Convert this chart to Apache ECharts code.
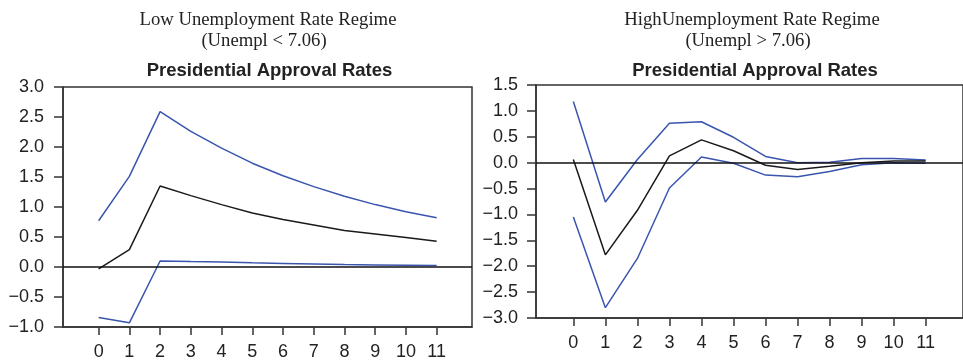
<!DOCTYPE html>
<html>
<head>
<meta charset="utf-8">
<script src="https://cdn.jsdelivr.net/npm/echarts@6/dist/echarts.min.js"></script>
<style>
  html, body { margin: 0; padding: 0; background: #fff; }
  #chart { width: 963px; height: 363px; }
</style>
</head>
<body>
<div id="chart"></div>
<script>
// Impulse responses of presidential approval, by unemployment regime
const horizons = [0, 1, 2, 3, 4, 5, 6, 7, 8, 9, 10, 11];

// Low unemployment regime (Unempl < 7.06)
const lowUpper = [0.77, 1.51, 2.59, 2.26, 1.98, 1.73, 1.52, 1.34, 1.18, 1.04, 0.92, 0.82];
const lowMean  = [-0.03, 0.29, 1.35, 1.19, 1.04, 0.90, 0.79, 0.70, 0.61, 0.55, 0.49, 0.43];
const lowLower = [-0.84, -0.93, 0.10, 0.09, 0.085, 0.07, 0.06, 0.05, 0.04, 0.035, 0.03, 0.025];

// High unemployment regime (Unempl > 7.06)
const highUpper = [1.18, -0.76, 0.06, 0.76, 0.79, 0.49, 0.12, 0.0, 0.01, 0.08, 0.08, 0.05];
const highMean  = [0.06, -1.78, -0.92, 0.13, 0.44, 0.23, -0.05, -0.13, -0.07, 0.0, 0.03, 0.03];
const highLower = [-1.05, -2.80, -1.85, -0.49, 0.11, -0.01, -0.24, -0.27, -0.17, -0.04, 0.0, -0.01];

// Axis tick values
const yTicksLow  = [-1.0, -0.5, 0.0, 0.5, 1.0, 1.5, 2.0, 2.5, 3.0];
const yTicksHigh = [-3.0, -2.5, -2.0, -1.5, -1.0, -0.5, 0.0, 0.5, 1.0, 1.5];

const panelTitles = ['Low Unemployment Rate Regime', 'HighUnemployment Rate Regime'];
const panelConditions = ['(Unempl < 7.06)', '(Unempl > 7.06)'];
const plotTitle = 'Presidential Approval Rates';

const BLUE = '#3a55ae';
const BLACK = '#1a1a1a';
const AXIS = '#333';
const SANS = '"Liberation Sans", Arial, sans-serif';
const SERIF = '"Liberation Serif", "Times New Roman", serif';

const pairs = vals => horizons.map((h, i) => [h, vals[i]]);
const fmt = v => (v < 0 ? '\u2212' : '') + Math.abs(v).toFixed(1);

function xAxisFor(gridIndex, min, max) {
  return {
    type: 'value', gridIndex, min, max,
    axisLine: { show: true, onZero: false, lineStyle: { color: AXIS, width: 1.5 } },
    axisTick: { show: true, customValues: horizons, length: 8, lineStyle: { color: AXIS, width: 1.5 } },
    axisLabel: { customValues: horizons, margin: 16, color: '#222', fontSize: 18, fontFamily: SANS },
    splitLine: { show: false }
  };
}

function yAxisFor(gridIndex, ticks, margin) {
  return {
    type: 'value', gridIndex,
    min: ticks[0], max: ticks[ticks.length - 1],
    axisLine: { show: true, onZero: false, lineStyle: { color: AXIS, width: 1.5 } },
    axisTick: { show: true, customValues: ticks, length: 9, lineStyle: { color: AXIS, width: 1.5 } },
    axisLabel: { customValues: ticks, margin, formatter: fmt, color: '#222', fontSize: 18, fontFamily: SANS },
    splitLine: { show: false }
  };
}

function band(name, vals, idx, color) {
  return {
    name, type: 'line', xAxisIndex: idx, yAxisIndex: idx,
    data: pairs(vals), showSymbol: false, symbol: 'none',
    lineStyle: { color, width: 1.5 }, z: 3
  };
}

function meanSeries(name, vals, idx) {
  const s = band(name, vals, idx, BLACK);
  s.markLine = {
    silent: true, symbol: 'none', label: { show: false },
    lineStyle: { color: '#111', width: 1.5, type: 'solid' },
    data: [{ yAxis: 0 }]
  };
  return s;
}

function text(x, y, str, font) {
  return {
    type: 'text', x, y, silent: true,
    style: { text: str, font, fill: '#222', align: 'center', verticalAlign: 'middle' }
  };
}

const chart = echarts.init(document.getElementById('chart'), null, { renderer: 'canvas' });
chart.setOption({
  animation: false,
  backgroundColor: '#fff',
  grid: [
    { left: 63, top: 87, width: 409, height: 240, show: true, borderColor: AXIS, borderWidth: 1.5, backgroundColor: 'transparent' },
    { left: 536, top: 85, width: 438, height: 233, show: true, borderColor: AXIS, borderWidth: 1.5, backgroundColor: 'transparent' }
  ],
  xAxis: [xAxisFor(0, -1.16, 12.15), xAxisFor(1, -1.166, 12.166)],
  yAxis: [yAxisFor(0, yTicksLow, 19), yAxisFor(1, yTicksHigh, 18)],
  series: [
    band('Low upper', lowUpper, 0, BLUE),
    band('Low lower', lowLower, 0, BLUE),
    meanSeries('Low response', lowMean, 0),
    band('High upper', highUpper, 1, BLUE),
    band('High lower', highLower, 1, BLUE),
    meanSeries('High response', highMean, 1)
  ],
  graphic: [
    text(268, 20, panelTitles[0], '18.7px ' + SERIF),
    text(264, 41, panelConditions[0], '18.7px ' + SERIF),
    text(752, 20, panelTitles[1], '18.7px ' + SERIF),
    text(748, 41, panelConditions[1], '18.7px ' + SERIF),
    text(269.5, 71, plotTitle, 'bold 18.5px ' + SANS),
    text(755, 71, plotTitle, 'bold 18.5px ' + SANS)
  ]
});
</script>
</body>
</html>
